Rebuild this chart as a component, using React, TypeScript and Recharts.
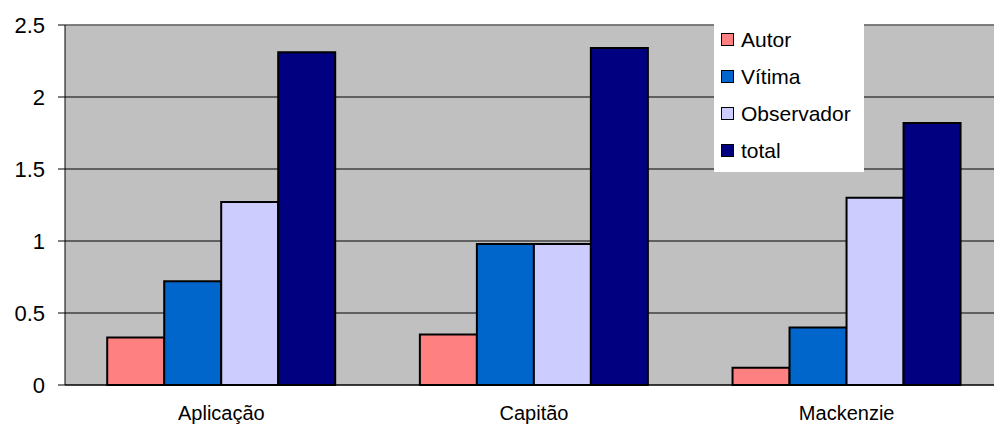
import React from "react";
import {
	Bar,
	BarChart,
	CartesianGrid,
	Legend,
	ReferenceLine,
	XAxis,
	YAxis,
} from "recharts";

// values
const categories = ["Aplicação", "Capitão", "Mackenzie"];
const autor = [0.33, 0.35, 0.12];
const vitima = [0.72, 0.98, 0.4];
const observador = [1.27, 0.98, 1.3];
const total = [2.31, 2.34, 1.82];
const yTicks = [0, 0.5, 1, 1.5, 2, 2.5];

const series = [
	{ key: "autor", name: "Autor", color: "#FF8080", values: autor },
	{ key: "vitima", name: "Vítima", color: "#0066CC", values: vitima },
	{ key: "observador", name: "Observador", color: "#CCCCFF", values: observador },
	{ key: "total", name: "total", color: "#000080", values: total },
];

const chartData = categories.map((name, i) => {
	const row: Record<string, string | number> = { name };
	series.forEach((s) => {
		row[s.key] = s.values[i];
	});
	return row;
});

const font = "'Liberation Sans', Arial, sans-serif";

const LegendBox = () => (
	<div
		style={{
			position: "relative",
			width: 150,
			height: 148,
			background: "#fff",
			fontFamily: font,
			fontSize: 21,
			color: "#000",
		}}
	>
		{series.map((s, i) => (
			<div
				key={s.key}
				style={{
					position: "absolute",
					left: 7,
					top: -3 + 37 * i,
					height: 37,
					display: "flex",
					alignItems: "center",
				}}
			>
				<span
					style={{
						display: "inline-block",
						width: 11,
						height: 11,
						background: s.color,
						border: "1.5px solid #000",
						marginRight: 7,
					}}
				/>
				<span>{s.name}</span>
			</div>
		))}
	</div>
);

export default function App() {
	return (
		<div
			style={{
				position: "absolute",
				left: 0,
				top: 0,
				width: 994,
				height: 426,
				overflow: "hidden",
				background: "#fff",
			}}
		>
			<BarChart
				width={1010}
				height={426}
				data={chartData}
				margin={{ top: 25, right: 7, bottom: 0, left: 0 }}
				barCategoryGap="13.5%"
				barGap={0}
			>
				<CartesianGrid
					vertical={false}
					fill="#C0C0C0"
					fillOpacity={1}
					stroke="#000"
					strokeWidth={1}
				/>
				<XAxis
					xAxisId="edges"
					type="number"
					domain={[0, 3]}
					ticks={[0, 1, 2, 3]}
					height={0}
					tick={false}
					axisLine={false}
					tickLine={{ stroke: "#000" }}
					tickSize={6}
				/>
				<XAxis
					dataKey="name"
					height={41}
					tickSize={0}
					tickMargin={21}
					axisLine={{ stroke: "#000" }}
					tickLine={false}
					tick={{ fill: "#000", fontSize: 20, fontFamily: font }}
				/>
				<YAxis
					width={65}
					domain={[0, 2.5]}
					ticks={yTicks}
					tickSize={7}
					tickMargin={13}
					axisLine={{ stroke: "#000" }}
					tickLine={{ stroke: "#000" }}
					tick={{ fill: "#000", fontSize: 22, fontFamily: font }}
				/>
				<ReferenceLine y={2.5} stroke="#808080" strokeWidth={1.5} />
				{series.map((s) => (
					<Bar
						key={s.key}
						dataKey={s.key}
						name={s.name}
						fill={s.color}
						stroke="#000"
						strokeWidth={2}
						isAnimationActive={false}
					/>
				))}
				<Legend
					layout="vertical"
					align="center"
					verticalAlign="middle"
					content={() => <LegendBox />}
					wrapperStyle={{ left: 714, top: 24, width: 150, height: 148 }}
				/>
			</BarChart>
		</div>
	);
}
